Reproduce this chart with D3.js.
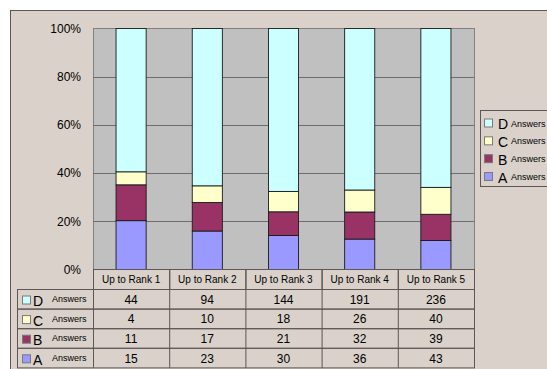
<!DOCTYPE html>
<html>
<head>
<meta charset="utf-8">
<script src="https://cdn.jsdelivr.net/npm/d3@7"></script>
<style>
  html, body { margin: 0; padding: 0; background: #ffffff; }
  svg { display: block; font-family: "Liberation Sans", Arial, sans-serif; }
</style>
</head>
<body>
<svg id="chart" width="547" height="369"></svg>
<script>
// Categories along the x axis
const categories = ["Up to Rank 1", "Up to Rank 2", "Up to Rank 3", "Up to Rank 4", "Up to Rank 5"];

// Answer counts per series (stacked bottom to top: A, B, C, D)
const seriesKeys = ["A", "B", "C", "D"];
const answersA = [15, 23, 30, 36, 43];
const answersB = [11, 17, 21, 32, 39];
const answersC = [4, 10, 18, 26, 40];
const answersD = [44, 94, 144, 191, 236];

const yTicks = [0, 0.2, 0.4, 0.6, 0.8, 1.0];

const colors = { A: "#9999ff", B: "#993366", C: "#ffffcc", D: "#ccffff" };
const valuesByKey = { A: answersA, B: answersB, C: answersC, D: answersD };

const rows = categories.map((c, i) => {
  const r = { category: c };
  seriesKeys.forEach(k => r[k] = valuesByKey[k][i]);
  return r;
});

const svg = d3.select("#chart");

// Chart area background
svg.append("rect")
  .attr("x", 10.5).attr("y", 10.5)
  .attr("width", 560).attr("height", 380)
  .attr("fill", "#d9d1ca")
  .attr("stroke", "#5e5656").attr("stroke-width", 1);

const plot = { left: 93, right: 474, top: 28.5, bottom: 269.5 };

const x = d3.scaleBand()
  .domain(categories)
  .range([plot.left, plot.right])
  .paddingInner(0).paddingOuter(0);

const y = d3.scaleLinear()
  .domain([0, 1])
  .range([plot.bottom, plot.top]);

// Plot area
svg.append("rect")
  .attr("x", plot.left + 0.5).attr("y", plot.top)
  .attr("width", plot.right - plot.left).attr("height", plot.bottom - plot.top)
  .attr("fill", "#c0c0c0")
  .attr("stroke", "#808080").attr("stroke-width", 1);

// Gridlines
svg.append("g")
  .selectAll("line")
  .data(yTicks.filter(t => t > 0 && t < 1))
  .join("line")
  .attr("x1", plot.left).attr("x2", plot.right)
  .attr("y1", d => Math.round(y(d)) + 0.5).attr("y2", d => Math.round(y(d)) + 0.5)
  .attr("stroke", "#6e6e6e").attr("stroke-width", 1);

// Y axis labels
const yAxis = d3.axisLeft(y)
  .tickValues(yTicks)
  .tickFormat(d3.format(".0%"))
  .tickSize(0)
  .tickPadding(0);
const yAxisG = svg.append("g")
  .attr("transform", `translate(81,0)`)
  .call(yAxis);
yAxisG.select(".domain").remove();
yAxisG.selectAll("text")
  .attr("font-size", 12)
  .attr("font-family", "Liberation Sans, Arial, sans-serif")
  .attr("fill", "#000");

// 100% stacked bars
const stack = d3.stack().keys(seriesKeys).offset(d3.stackOffsetExpand);
const stacked = stack(rows);
const barW = x.bandwidth() * 0.395;

svg.append("g")
  .selectAll("g")
  .data(stacked)
  .join("g")
  .attr("fill", d => colors[d.key])
  .selectAll("rect")
  .data(d => d)
  .join("rect")
  .attr("x", d => x(d.data.category) + (x.bandwidth() - barW) / 2)
  .attr("y", d => y(d[1]))
  .attr("width", barW)
  .attr("height", d => y(d[0]) - y(d[1]))
  .attr("stroke", "#1a1a1a").attr("stroke-width", 0.9);

// Data table below the plot
const table = { left: 17, headerTop: 269.5, rowTop: 289.5, rowH: 19.6 };
const tableRows = ["D", "C", "B", "A"];
const lineColor = "#5e5656";
const tg = svg.append("g");

// Header cells (category names)
tg.selectAll("rect.head")
  .data(categories)
  .join("rect")
  .attr("class", "head")
  .attr("x", d => x(d) + 0.5).attr("y", table.headerTop)
  .attr("width", x.bandwidth()).attr("height", table.rowTop - table.headerTop)
  .attr("fill", "none").attr("stroke", lineColor).attr("stroke-width", 1);

tg.selectAll("text.head")
  .data(categories)
  .join("text")
  .attr("class", "head")
  .attr("x", d => x(d) + x.bandwidth() / 2)
  .attr("y", (table.headerTop + table.rowTop) / 2 + 3.5)
  .attr("text-anchor", "middle")
  .attr("font-size", 10)
  .attr("fill", "#000")
  .text(d => d);

// Body rows
const rowY = d3.scaleBand()
  .domain(tableRows)
  .range([table.rowTop, table.rowTop + table.rowH * tableRows.length]);

tg.selectAll("rect.row")
  .data(tableRows)
  .join("rect")
  .attr("class", "row")
  .attr("x", table.left + 0.5).attr("y", d => rowY(d))
  .attr("width", plot.right - table.left).attr("height", rowY.bandwidth())
  .attr("fill", "none").attr("stroke", lineColor).attr("stroke-width", 1);

// Column separators in the body
tg.selectAll("line.col")
  .data(categories)
  .join("line")
  .attr("class", "col")
  .attr("x1", d => x(d) + 0.5).attr("x2", d => x(d) + 0.5)
  .attr("y1", table.rowTop).attr("y2", table.rowTop + table.rowH * tableRows.length)
  .attr("stroke", lineColor).attr("stroke-width", 1);

// Row legend keys
const rowKey = tg.selectAll("g.rowkey")
  .data(tableRows)
  .join("g")
  .attr("class", "rowkey")
  .attr("transform", d => `translate(0,${rowY(d)})`);

rowKey.append("rect")
  .attr("x", 22.5).attr("y", 6.5)
  .attr("width", 8).attr("height", 8)
  .attr("fill", d => colors[d])
  .attr("stroke", "#7a7a7a").attr("stroke-width", 1);
rowKey.append("text")
  .attr("x", 33).attr("y", 16.5)
  .attr("font-size", 14)
  .attr("fill", "#000")
  .text(d => d);
rowKey.append("text")
  .attr("x", 52).attr("y", 12.5)
  .attr("font-size", 9)
  .attr("fill", "#000")
  .text("Answers");

// Cell values
tableRows.forEach(k => {
  tg.selectAll(`text.val${k}`)
    .data(valuesByKey[k].map((v, i) => ({ v, c: categories[i] })))
    .join("text")
    .attr("class", `val${k}`)
    .attr("x", d => x(d.c) + x.bandwidth() / 2)
    .attr("y", rowY(k) + rowY.bandwidth() / 2 + 4.5)
    .attr("text-anchor", "middle")
    .attr("font-size", 12)
    .attr("fill", "#000")
    .text(d => d.v);
});

// Legend box on the right
const legend = svg.append("g").attr("transform", "translate(480,110)");
legend.append("rect")
  .attr("x", 0.5).attr("y", 0.5)
  .attr("width", 80).attr("height", 76)
  .attr("fill", "#d9d1ca")
  .attr("stroke", "#5e5656").attr("stroke-width", 1);

const legY = d3.scalePoint()
  .domain(tableRows)
  .range([13.5, 67]);

const legItem = legend.selectAll("g.item")
  .data(tableRows)
  .join("g")
  .attr("class", "item")
  .attr("transform", d => `translate(0,${legY(d)})`);

legItem.append("rect")
  .attr("x", 4.5).attr("y", -4.5)
  .attr("width", 8).attr("height", 8)
  .attr("fill", d => colors[d])
  .attr("stroke", "#7a7a7a").attr("stroke-width", 1);
legItem.append("text")
  .attr("x", 18).attr("y", 5.5)
  .attr("font-size", 14)
  .attr("fill", "#000")
  .text(d => d);
legItem.append("text")
  .attr("x", 31).attr("y", 3)
  .attr("font-size", 9)
  .attr("fill", "#000")
  .text("Answers");
</script>
</body>
</html>
